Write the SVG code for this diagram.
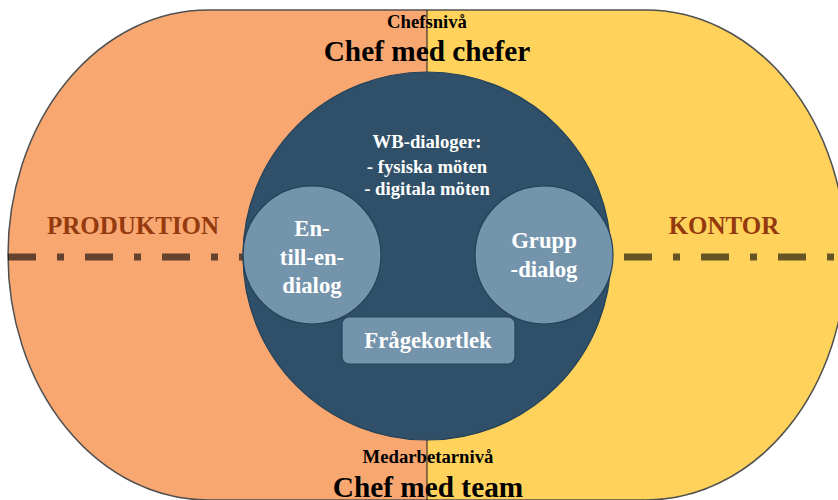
<svg xmlns="http://www.w3.org/2000/svg" width="838" height="500" viewBox="0 0 838 500">
<style>
text{font-family:"Liberation Serif","Times New Roman",serif;font-weight:bold;text-anchor:middle}
.blk{fill:#000}
.area{fill:#943A0E;font-size:25px}
.wht{fill:#fff}
.sub{fill:#7494AC;stroke:#24425A;stroke-width:1.2}
</style>
<defs>
<clipPath id="outerClip"><rect x="8" y="10" width="838" height="490" rx="200" ry="245"/></clipPath>
</defs>
<g id="background">
<g clip-path="url(#outerClip)">
<rect x="0" y="0" width="427" height="500" fill="#F8A771"/>
<rect x="427" y="0" width="420" height="500" fill="#FFD35B"/>
</g>
<rect x="8" y="10" width="838" height="490" rx="200" ry="245" fill="none" stroke="#505050" stroke-width="1.5"/>
</g>
<g id="connectors">
<line x1="427" y1="10" x2="427" y2="500" stroke="#1a1a1a" stroke-width="1"/>
<line x1="8" y1="257" x2="846" y2="257" stroke="#000" stroke-opacity="0.6" stroke-width="7" stroke-dasharray="28 21 7 21"/>
</g>
<g id="labels">
<text class="blk" x="427" y="28" font-size="18.7">Chefsnivå</text>
<text class="blk" x="427" y="61" font-size="29.3">Chef med chefer</text>
<text class="area" x="133" y="234">PRODUKTION</text>
<text class="area" x="724" y="234">KONTOR</text>
<text class="blk" x="428" y="463" font-size="18.7">Medarbetarnivå</text>
<text class="blk" x="428" y="497" font-size="29.3">Chef med team</text>
</g>
<g id="wb-dialoger">
<circle cx="427" cy="256" r="184" fill="#2F5068" stroke="#24425A" stroke-width="1.2"/>
<text class="wht" font-size="18.7"><tspan x="427" y="148">WB-dialoger:</tspan><tspan x="427" y="173">- fysiska möten</tspan><tspan x="427" y="195">- digitala möten</tspan></text>
</g>
<g id="en-till-en">
<circle class="sub" cx="312" cy="255" r="69"/>
<text class="wht" font-size="22.7"><tspan x="312" y="236">En-</tspan><tspan x="312" y="265">till-en-</tspan><tspan x="312" y="293">dialog</tspan></text>
</g>
<g id="grupp">
<circle class="sub" cx="544" cy="255" r="69"/>
<text class="wht" font-size="22.7"><tspan x="544" y="248">Grupp</tspan><tspan x="544" y="277">-dialog</tspan></text>
</g>
<g id="fragekortlek">
<rect class="sub" x="342" y="317" width="173" height="47" rx="7"/>
<text class="wht" x="428" y="348" font-size="22.7">Frågekortlek</text>
</g>
</svg>
